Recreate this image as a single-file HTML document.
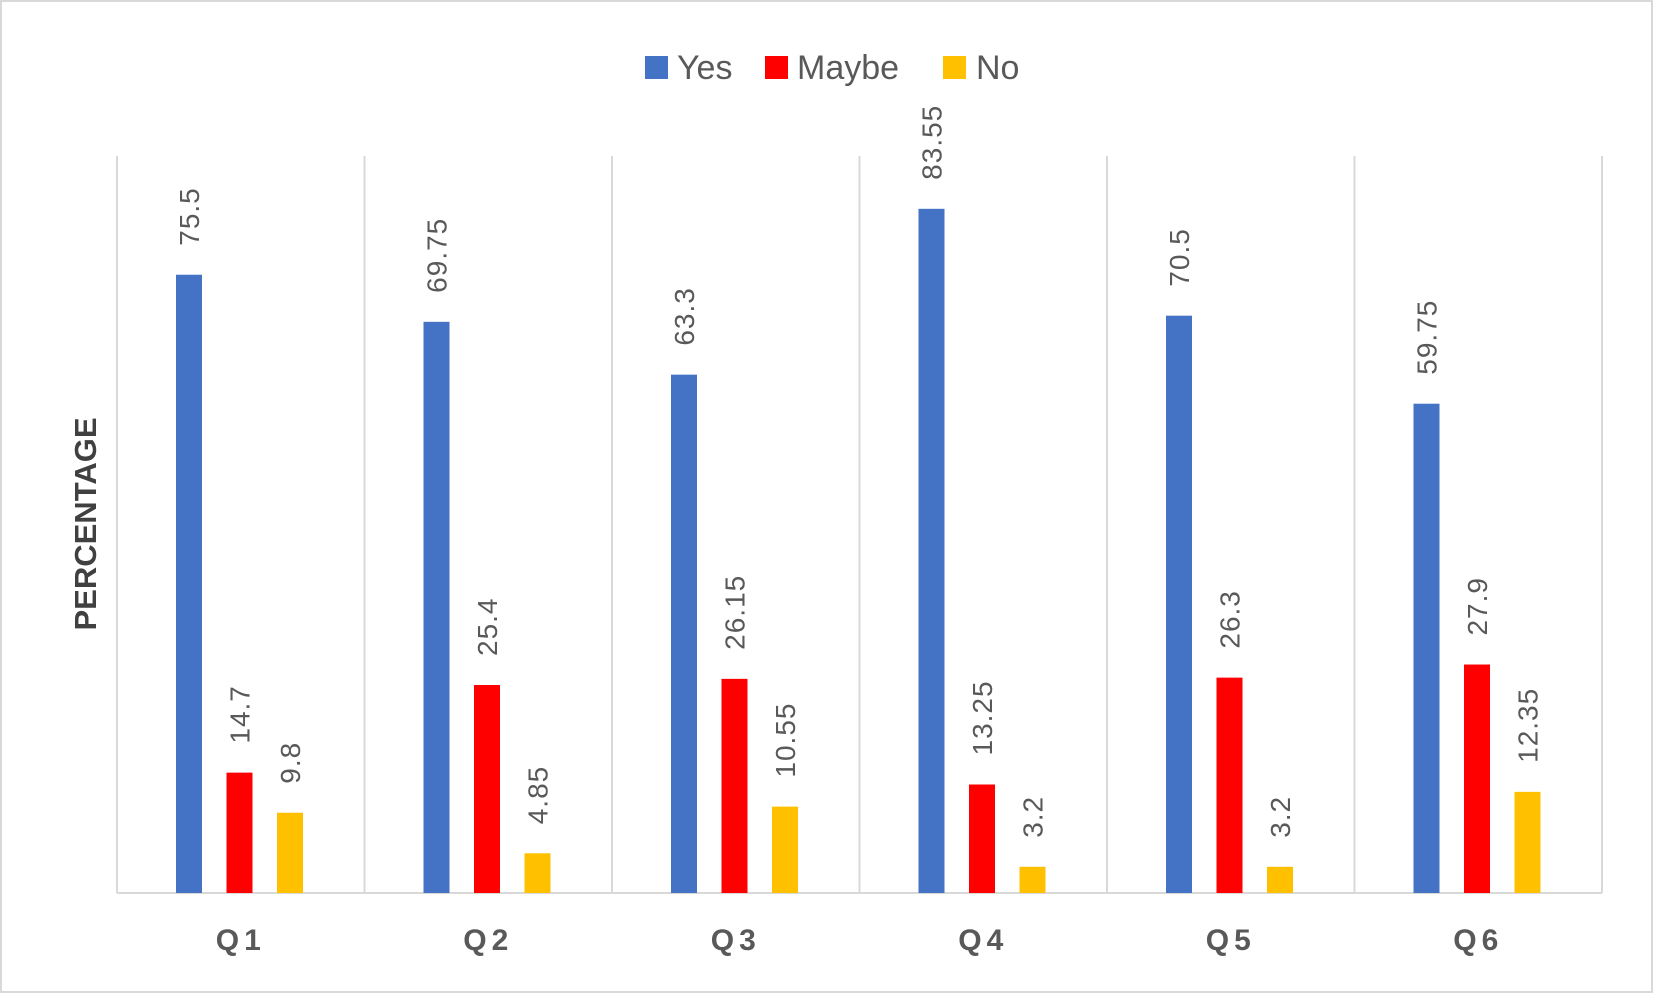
<!DOCTYPE html>
<html><head><meta charset="utf-8"><style>
body{margin:0;background:#fff;}
svg{display:block;font-family:"Liberation Sans",sans-serif;}
</style></head><body>
<svg id="chart" width="1653" height="993" viewBox="0 0 1653 993">
<rect x="1" y="1" width="1651" height="991" fill="#fff" stroke="#d9d9d9" stroke-width="2"/>
<g id="legend">
<rect x="645" y="56" width="23" height="23" fill="#4472c4"/>
<text x="677" y="79" font-size="34" fill="#595959">Yes</text>
<rect x="765" y="56" width="23" height="23" fill="#ff0000"/>
<text x="797" y="79" font-size="34" fill="#595959">Maybe</text>
<rect x="943" y="56" width="23" height="23" fill="#ffc000"/>
<text x="976" y="79" font-size="34" fill="#595959">No</text>
</g>
<text transform="translate(96,524) rotate(-90)" text-anchor="middle" font-size="31" font-weight="bold" fill="#404040">PERCENTAGE</text>
<g id="grid"></g><g id="bars"></g><g id="labels"></g><g id="cats"></g>
</svg>
<script>
const categories=["Q1","Q2","Q3","Q4","Q5","Q6"];
const yesValues=[75.5,69.75,63.3,83.55,70.5,59.75];
const maybeValues=[14.7,25.4,26.15,13.25,26.3,27.9];
const noValues=[9.8,4.85,10.55,3.2,3.2,12.35];
const yMax=90;
const NS="http://www.w3.org/2000/svg";
const plotLeft=117,plotRight=1602,plotTop=156,plotBottom=893;
const cw=(plotRight-plotLeft)/categories.length;
const yScale=v=>plotBottom-(plotBottom-plotTop)*v/yMax;
const xCat=i=>plotLeft+i*cw;
const series=[{name:"yes",vals:yesValues,color:"#4472c4",off:59},{name:"maybe",vals:maybeValues,color:"#ff0000",off:109.5},{name:"no",vals:noValues,color:"#ffc000",off:160}];
const gridG=document.getElementById('grid'),barsG=document.getElementById('bars'),labelsG=document.getElementById('labels'),catsG=document.getElementById('cats');
function mk(t,a,p){const e=document.createElementNS(NS,t);for(const k in a)e.setAttribute(k,a[k]);p.appendChild(e);return e;}
for(let i=0;i<=categories.length;i++){
 const l=mk('line',{x1:xCat(i),x2:xCat(i),y1:plotTop,y2:plotBottom,stroke:'#d9d9d9','stroke-width':2},gridG);
 
 
}
const ax=mk('line',{x1:plotLeft,x2:plotRight,y1:plotBottom,y2:plotBottom,stroke:'#d9d9d9','stroke-width':2},gridG);


categories.forEach((c,i)=>{
 series.forEach(s=>{
  const v=s.vals[i];const bx=xCat(i)+s.off;
  const r=mk('rect',{x:bx,y:yScale(v),width:26,height:plotBottom-yScale(v),fill:s.color},barsG);
  
  
  const t=mk('text',{transform:`translate(${bx+13+10},${yScale(v)-29}) rotate(-90)`,'font-size':28,fill:'#595959','letter-spacing':1},labelsG);
  t.textContent=String(v);
  
  
 });
 const ct=mk('text',{x:xCat(i)+cw/2,y:950,'text-anchor':'middle','font-size':30,'font-weight':'bold',fill:'#595959','letter-spacing':5},catsG);
 ct.textContent=c;
 
 
});
</script>
</body></html>
